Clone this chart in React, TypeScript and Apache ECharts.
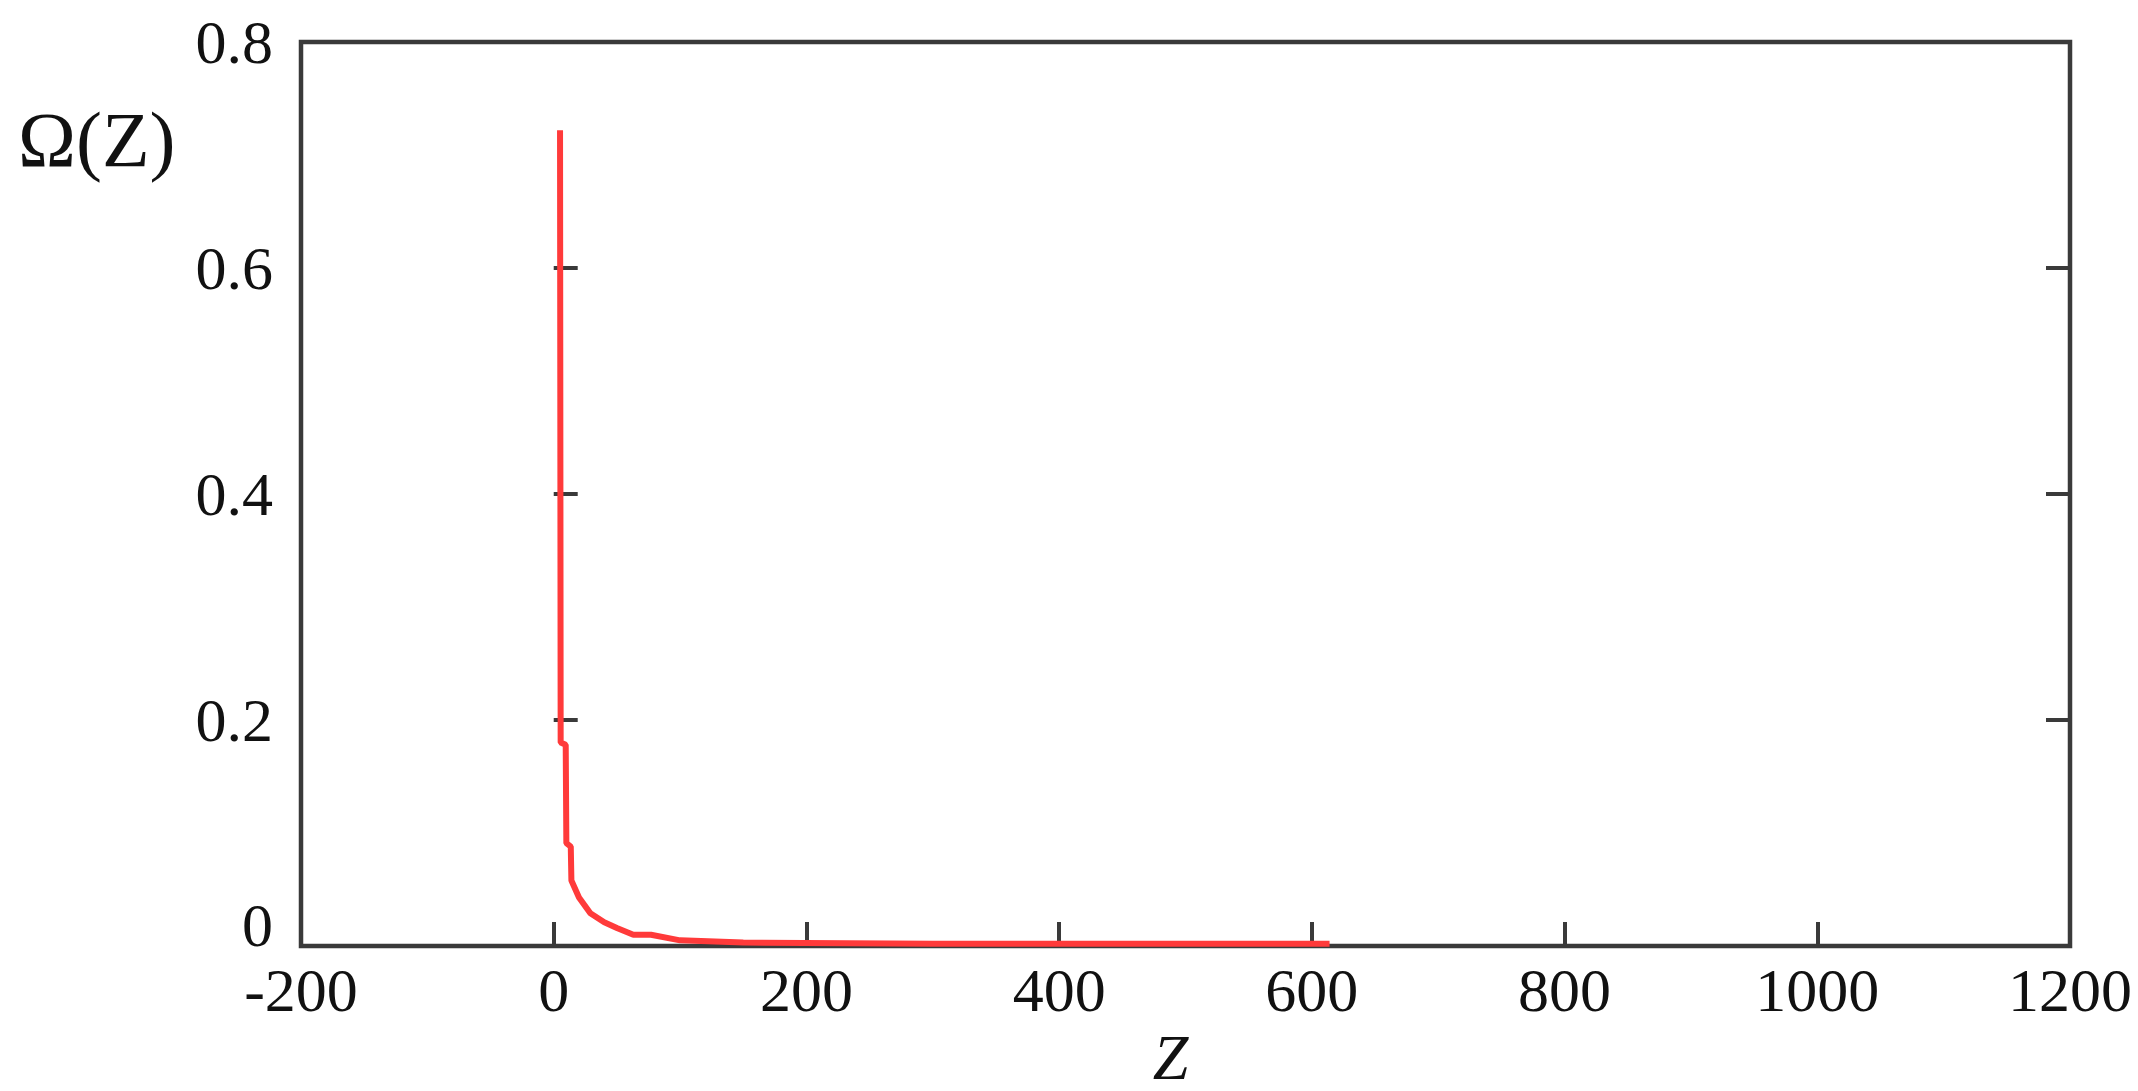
import React, { useEffect, useRef } from "react";
import * as echarts from "echarts";

const zValues = [5, 5.5, 9.5, 10, 13.5, 14, 20, 29, 40, 50, 63, 77, 100, 150, 300, 614];
const omegaValues = [0.722, 0.18, 0.178, 0.091, 0.088, 0.058, 0.043, 0.029, 0.021, 0.016, 0.01, 0.01, 0.005, 0.003, 0.002, 0.002];
const xTicks = { min: -200, max: 1200, interval: 200 };
const yTicks = { min: 0, max: 0.8, interval: 0.2 };

const FONT = "'Liberation Serif', 'Times New Roman', serif";
const AXIS_COLOR = "#3a3a3a";
const TEXT_COLOR = "#111";

export default function App() {
  const ref = useRef<HTMLDivElement>(null);
  useEffect(() => {
    if (!ref.current) return;
    const chart = echarts.init(ref.current, undefined, { renderer: "svg" });
    const data = zValues.map((z, i) => [z, omegaValues[i]]);
    const tickStyle = { show: true, inside: true, length: 24, lineStyle: { color: AXIS_COLOR, width: 4 } };
    chart.setOption({
      animation: false,
      backgroundColor: "#fff",
      grid: {
        left: 301,
        right: 68,
        top: 42,
        bottom: 145,
        containLabel: false,
        outerBoundsMode: "none",
        show: true,
        borderColor: AXIS_COLOR,
        borderWidth: 4.5,
        backgroundColor: "transparent",
      },
      xAxis: [
        {
          type: "value",
          min: xTicks.min,
          max: xTicks.max,
          interval: xTicks.interval,
          axisLine: { show: false },
          axisTick: tickStyle,
          splitLine: { show: false },
          axisLabel: {
            color: TEXT_COLOR,
            fontFamily: FONT,
            fontSize: 62,
            lineHeight: 44,
            margin: 22,
            formatter: (v: number) => String(v),
          },
          name: "Z",
          nameLocation: "middle",
          nameGap: 58,
          nameTextStyle: {
            color: TEXT_COLOR,
            fontFamily: FONT,
            fontSize: 64,
            lineHeight: 60,
            fontStyle: "italic",
            padding: [0, 30, 0, 0],
          },
        },
      ],
      yAxis: [
        {
          type: "value",
          min: yTicks.min,
          max: yTicks.max,
          interval: yTicks.interval,
          position: "left",
          axisLine: { show: false },
          axisTick: tickStyle,
          splitLine: { show: false },
          axisLabel: {
            color: TEXT_COLOR,
            fontFamily: FONT,
            fontSize: 62,
            lineHeight: 42,
            margin: 28,
            verticalAlignMinLabel: "bottom",
            formatter: (v: number) => (v === 0 ? "0" : v.toFixed(1)),
          },
        },
        {
          type: "value",
          min: yTicks.min,
          max: yTicks.max,
          interval: yTicks.interval,
          position: "right",
          axisLine: { show: false },
          axisTick: tickStyle,
          splitLine: { show: false },
          axisLabel: { show: false },
        },
      ],
      graphic: [
        {
          type: "text",
          left: 18,
          top: 100,
          style: { text: "Ω(Z)", fill: TEXT_COLOR, font: `78px ${FONT}` },
        },
      ],
      series: [
        {
          type: "line",
          data,
          showSymbol: false,
          xAxisIndex: 0,
          yAxisIndex: 0,
          lineStyle: { color: "#ff3a3a", width: 6 },
          z: 1,
        },
      ],
    });
    return () => chart.dispose();
  }, []);
  return (
    <div
      ref={ref}
      style={{ position: "fixed", left: 0, top: 0, width: 2138, height: 1091, background: "#fff" }}
    />
  );
}
